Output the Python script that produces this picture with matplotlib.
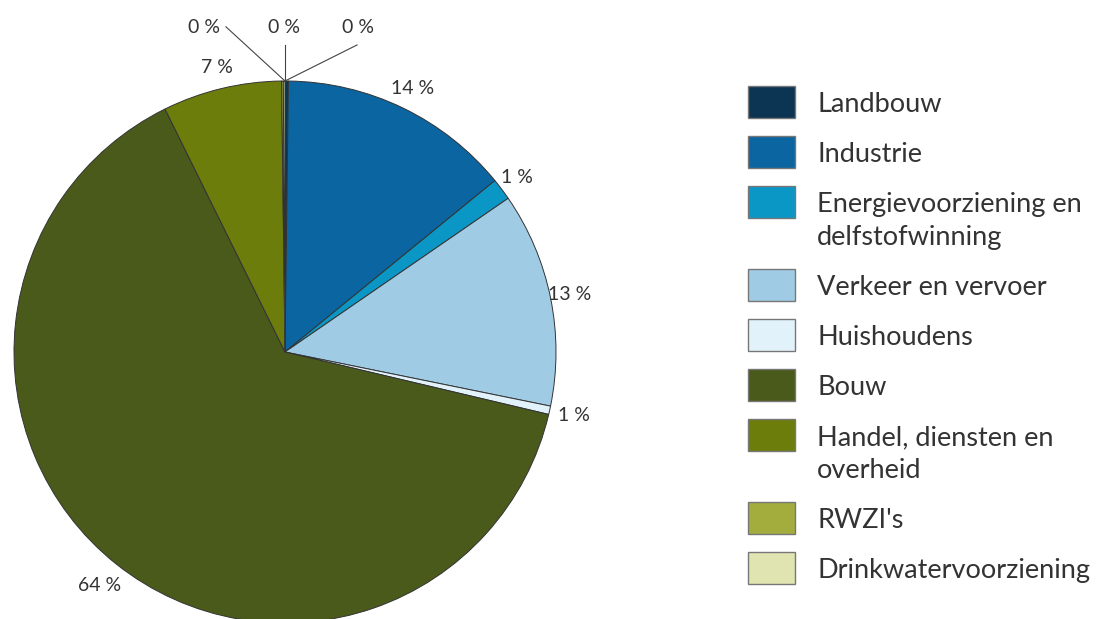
import numpy as np
import matplotlib.pyplot as plt
from matplotlib.patches import Rectangle

# aandeel per sector (%), gelezen uit de figuur
sectors = ["Landbouw", "Industrie", "Energievoorziening en\ndelfstofwinning",
           "Verkeer en vervoer", "Huishoudens", "Bouw",
           "Handel, diensten en\noverheid", "RWZI's", "Drinkwatervoorziening"]
shares = [0.2, 13.9, 1.3, 12.8, 0.5, 64.0, 7.1, 0.1, 0.1]
share_labels = ["0 %", "14 %", "1 %", "13 %", "1 %", "64 %", "7 %", "0 %", "0 %"]
colors = ["#0b3552", "#0a65a0", "#0b97c6", "#9fcbe5", "#e1f2fb",
          "#4a5a1b", "#6d7d0b", "#a2ad3d", "#e0e4b1"]

plt.rcParams['font.family'] = ['Lato', 'DejaVu Sans']

W, H = 1099, 619
fig = plt.figure(figsize=(W / 100, H / 100), dpi=100)
ax = fig.add_axes([14 / W, -4 / H, 542 / W, 542 / H])

wedges, _ = ax.pie(shares, colors=colors, startangle=90, counterclock=False,
                   radius=1.0, wedgeprops=dict(edgecolor="#333333", linewidth=0.7))
ax.set_xlim(-1, 1)
ax.set_ylim(-1, 1)
ax.set_aspect("equal")
ax.axis("off")

# labels buiten de taart
dist = [None, 1.08, 1.07, 1.07, 1.09, 1.10, 1.08, None, None]
for i, w in enumerate(wedges):
    if dist[i] is None:
        continue
    mid = np.deg2rad((w.theta1 + w.theta2) / 2)
    ax.text(dist[i] * np.cos(mid), dist[i] * np.sin(mid), share_labels[i],
            ha="center", va="center", fontsize=14, color="#333333", clip_on=False)

# kleine sectoren rond de top met hulplijn
top = (0.0, 1.0)
line_end = {0: (0.266, 1.133), 7: (-0.218, 1.20), 8: (0.0, 1.133)}
text_pos = {0: (0.27, 1.196), 7: (-0.30, 1.196), 8: (-0.005, 1.196)}
for i, end in line_end.items():
    ax.plot([top[0], end[0]], [top[1], end[1]], color="#444444", lw=0.8, clip_on=False)
    ax.text(text_pos[i][0], text_pos[i][1], share_labels[i], ha="center", va="center",
            fontsize=14, color="#333333", clip_on=False)

# legenda met hand, blokje op hoogte van de eerste regel
y = 102
for name, c in zip(sectors, colors):
    fig.patches.append(Rectangle((748 / W, 1 - (y + 16) / H), 47 / W, 32 / H,
                                 transform=fig.transFigure, facecolor=c,
                                 edgecolor="#777777", linewidth=1.0))
    lines = name.split("\n")
    for k, line in enumerate(lines):
        fig.text(817 / W, 1 - (y + 33 * k) / H, line, ha="left", va="center_baseline",
                 fontsize=19.5, color="#333333")
    y += 50 + 33 * (len(lines) - 1)

fig.savefig("out.png", dpi=100)
